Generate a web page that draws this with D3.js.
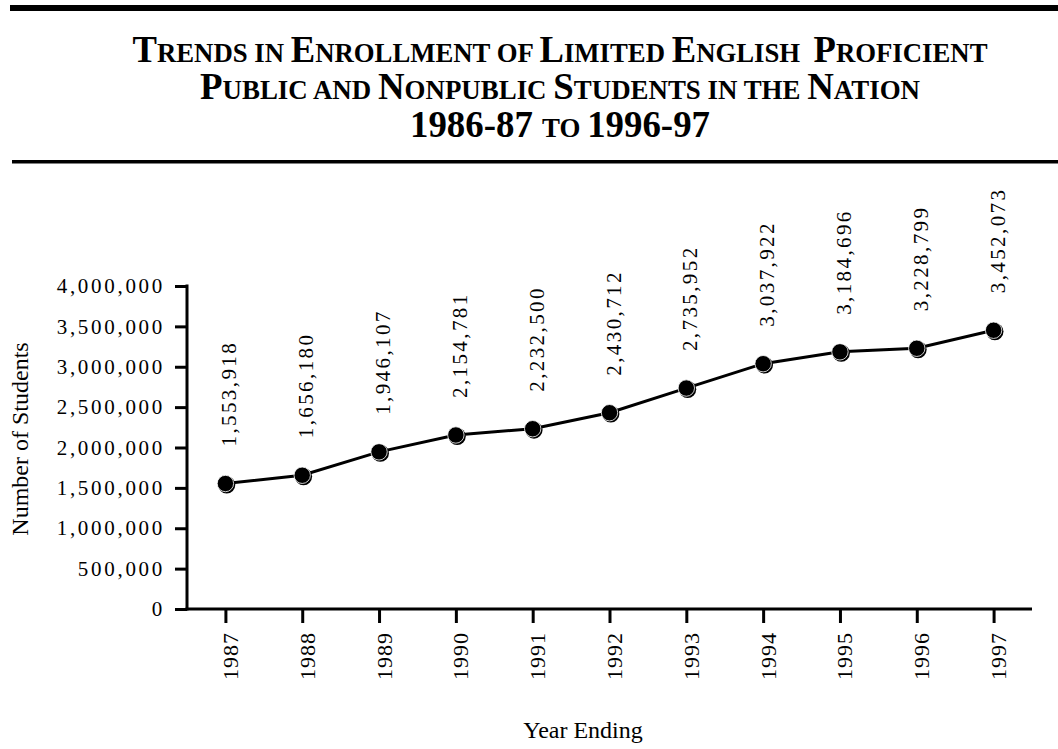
<!DOCTYPE html>
<html>
<head>
<meta charset="utf-8">
<script src="https://cdn.jsdelivr.net/npm/d3@7"></script>
<style>
  html, body { margin: 0; padding: 0; background: #fff; }
  svg { display: block; }
</style>
</head>
<body>
<svg id="chart" width="1058" height="749"></svg>
<script>
// ---- data ----
const years = ["1987","1988","1989","1990","1991","1992","1993","1994","1995","1996","1997"];
const students = [1553918, 1656180, 1946107, 2154781, 2232500, 2430712, 2735952, 3037922, 3184696, 3228799, 3452073];
const yTicks = [0, 500000, 1000000, 1500000, 2000000, 2500000, 3000000, 3500000, 4000000];
const titleLines = [
  [["T",1],["RENDS IN ",0],["E",1],["NROLLMENT OF ",0],["L",1],["IMITED ",0],["E",1],["NGLISH  ",0],["P",1],["ROFICIENT",0]],
  [["P",1],["UBLIC AND ",0],["N",1],["ONPUBLIC ",0],["S",1],["TUDENTS IN THE ",0],["N",1],["ATION",0]],
  [["1986-87 ",1],["TO ",0],["1996-97",1]]
];
const yAxisTitle = "Number of Students";
const xAxisTitle = "Year Ending";

// ---- layout ----
const svg = d3.select("#chart");
const serif = "'Liberation Serif', 'Times New Roman', Times, serif";
const x0 = 187, x1 = 1032, yBase = 609, yTop = 286;

// rules
svg.append("rect").attr("x", 10).attr("y", 5).attr("width", 1048).attr("height", 6).attr("fill", "#000");
svg.append("rect").attr("x", 12).attr("y", 160).attr("width", 1046).attr("height", 3.5).attr("fill", "#000");

// title
const titleBaselines = [62, 99, 137];
const titleWidths = [855, 720, 300];
titleLines.forEach((line, i) => {
  const t = svg.append("text")
    .attr("x", 560).attr("y", titleBaselines[i])
    .attr("text-anchor", "middle")
    .attr("font-family", serif).attr("font-weight", "bold")
    .attr("textLength", titleWidths[i]).attr("lengthAdjust", "spacingAndGlyphs")
    .attr("fill", "#000");
  line.forEach(([s, big]) => {
    t.append("tspan").attr("font-size", big ? 37 : 27).attr("xml:space", "preserve").text(s);
  });
});

// scales
const x = d3.scalePoint().domain(years).range([x0, x1]).padding(0.5);
const y = d3.scaleLinear().domain([0, 4000000]).range([yBase, yTop]);
const fmt = d3.format(",");

// y axis
const yAxis = svg.append("g").attr("transform", `translate(${x0},0)`)
  .call(d3.axisLeft(y).tickValues(yTicks).tickSize(12).tickPadding(10).tickFormat(fmt).tickSizeOuter(0));
yAxis.select(".domain").attr("stroke", "#000").attr("stroke-width", 3).attr("d", `M0,${yTop - 1.5}V${yBase + 1.5}`);
yAxis.selectAll(".tick line").attr("stroke", "#000").attr("stroke-width", 3);
yAxis.selectAll(".tick text")
  .attr("font-family", serif).attr("font-size", 21).attr("fill", "#000")
  .style("letter-spacing", "2.7px");

// x axis
const xAxis = svg.append("g").attr("transform", `translate(0,${yBase})`)
  .call(d3.axisBottom(x).tickSize(14).tickSizeOuter(0));
xAxis.select(".domain").attr("stroke", "#000").attr("stroke-width", 3).attr("d", `M${x0 - 1.5},0H${x1}`);
xAxis.selectAll(".tick line").attr("stroke", "#000").attr("stroke-width", 3);
xAxis.selectAll(".tick text")
  .attr("font-family", serif).attr("font-size", 22).attr("fill", "#000")
  .style("letter-spacing", "1px")
  .attr("text-anchor", "end")
  .attr("dy", null)
  .attr("y", 0)
  .attr("transform", "translate(12,23) rotate(-90)");

// axis titles
svg.append("text")
  .attr("transform", "translate(28,439) rotate(-90)")
  .attr("text-anchor", "middle")
  .attr("font-family", serif).attr("font-size", 24).attr("fill", "#000")
  .text(yAxisTitle);
svg.append("text")
  .attr("x", 583).attr("y", 738)
  .attr("text-anchor", "middle")
  .attr("font-family", serif).attr("font-size", 24).attr("fill", "#000")
  .text(xAxisTitle);

// line
const data = years.map((yr, i) => ({ year: yr, value: students[i] }));
svg.append("path").datum(data)
  .attr("fill", "none").attr("stroke", "#000").attr("stroke-width", 3)
  .attr("d", d3.line().x(d => x(d.year)).y(d => y(d.value)));

// points
const pts = svg.append("g").selectAll("g").data(data).join("g")
  .attr("transform", d => `translate(${x(d.year)},${y(d.value)})`);
pts.append("circle").attr("cx", 1.3).attr("cy", 1.3).attr("r", 8.6).attr("fill", "#000");
pts.append("circle").attr("r", 8.2).attr("fill", "#000").attr("stroke", "#fff").attr("stroke-width", 0.8);

// value labels
svg.append("g").selectAll("text").data(data).join("text")
  .attr("transform", d => `translate(${x(d.year) + 11},${y(d.value) - 37}) rotate(-90)`)
  .attr("text-anchor", "start")
  .attr("font-family", serif).attr("font-size", 21).attr("fill", "#000")
  .style("letter-spacing", "2.4px")
  .text(d => fmt(d.value));
</script>
</body>
</html>
